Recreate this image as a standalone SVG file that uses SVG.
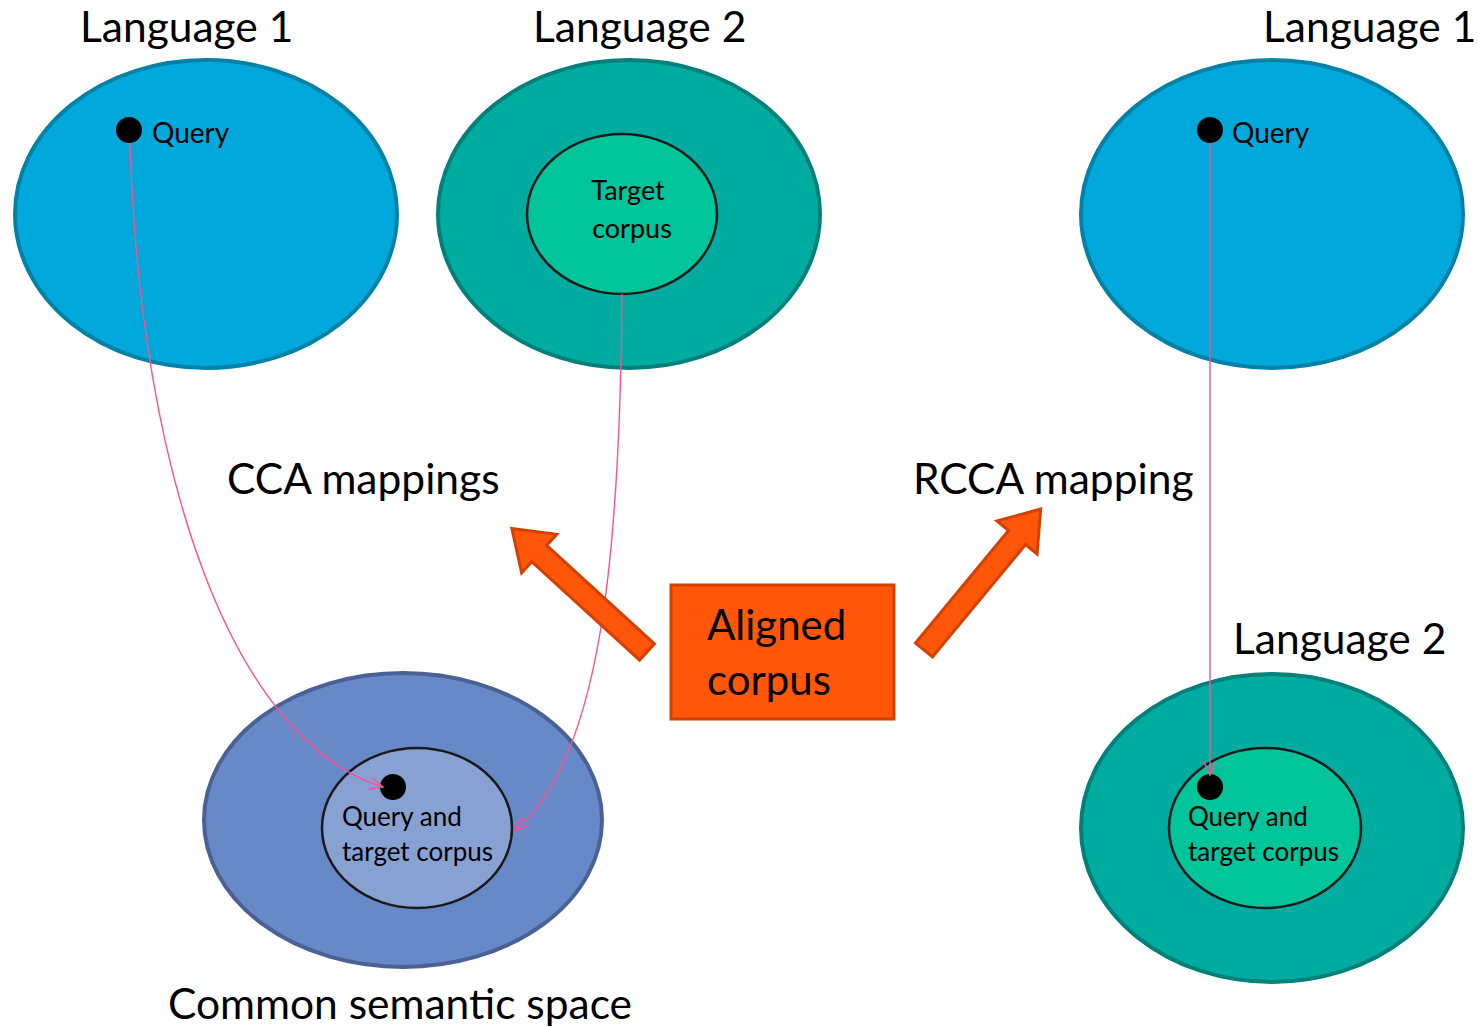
<svg xmlns="http://www.w3.org/2000/svg" width="1479" height="1027" viewBox="0 0 1479 1027">
<style>
  text { font-family: Lato, "Liberation Sans", sans-serif; fill: #000; }
  .big { font-size: 42.5px; }
  .mid { font-size: 26px; }
  .q { font-size: 28px; }
  .lang1 { fill: #00a8dc; stroke: #0082a6; stroke-width: 4; }
  .lang2 { fill: #00aba0; stroke: #00807a; stroke-width: 4; }
  .common { fill: #6889c7; stroke: #4a6196; stroke-width: 4; }
  .inner2 { fill: #00c49a; stroke: #1a1a1a; stroke-width: 2.5; }
  .innerc { fill: #87a1d3; stroke: #1a1a1a; stroke-width: 2.5; }
  .dot { fill: #000; }
  .conn { fill: none; stroke: #ff4f8f; stroke-width: 1.4; }
  .block { fill: #ff560a; stroke: #d34000; stroke-width: 3; stroke-linejoin: miter; }
</style>
<defs>
  <marker id="open" markerWidth="16" markerHeight="14" refX="14" refY="7" orient="auto" markerUnits="userSpaceOnUse">
    <path d="M1,1 L14,7 L1,13" fill="none" stroke="#ff4f8f" stroke-width="1.4"/>
  </marker>
  <polygon id="barrow" points="0,-11 146,-11 146,-26 183,0 146,26 146,11 0,11"/>
</defs>

<g id="lang1-left">
  <ellipse class="lang1" cx="206" cy="214" rx="191" ry="154"/>
  <circle class="dot" cx="129" cy="130" r="13"/>
  <text class="q" x="152" y="143">Query</text>
  <text class="big" x="80" y="42">Language 1</text>
</g>

<g id="lang2-top">
  <ellipse class="lang2" cx="629" cy="214" rx="191" ry="154"/>
  <ellipse class="inner2" cx="622" cy="214" rx="95" ry="80"/>
  <text class="mid" x="628" y="200" text-anchor="middle" style="font-size:27px">Target</text>
  <text class="mid" x="632" y="238" text-anchor="middle" style="font-size:27px">corpus</text>
  <text class="big" x="533" y="42">Language 2</text>
</g>

<g id="lang1-right">
  <ellipse class="lang1" cx="1272" cy="214" rx="191" ry="154"/>
  <circle class="dot" cx="1210" cy="130" r="13"/>
  <text class="q" x="1232" y="143">Query</text>
  <text class="big" x="1263" y="42">Language 1</text>
</g>

<g id="common-space">
  <ellipse class="common" cx="403" cy="820" rx="199" ry="147"/>
  <ellipse class="innerc" cx="417" cy="828" rx="95" ry="80"/>
  <circle class="dot" cx="393" cy="787" r="13"/>
  <text class="mid" x="342" y="826">Query and</text>
  <text class="mid" x="342" y="861">target corpus</text>
  <text class="big" x="168" y="1019">Common semantic space</text>
</g>

<g id="lang2-bottom">
  <ellipse class="lang2" cx="1272" cy="828" rx="191" ry="154"/>
  <ellipse class="inner2" cx="1265" cy="828" rx="96" ry="80"/>
  <circle class="dot" cx="1210" cy="787" r="13"/>
  <text class="mid" x="1188" y="826">Query and</text>
  <text class="mid" x="1188" y="861">target corpus</text>
  <text class="big" x="1233" y="654">Language 2</text>
</g>

<g id="aligned-corpus">
  <rect class="block" x="671" y="585" width="223" height="134"/>
  <text x="707" y="640" style="font-size:42px">Aligned</text>
  <text x="707" y="695" style="font-size:42px">corpus</text>
</g>

<g id="labels">
  <text class="big" x="227" y="494">CCA mappings</text>
  <text class="big" x="913" y="494">RCCA mapping</text>
</g>

<g id="connectors">
  <path class="conn" d="M130,143 C140,470 230,740 383,787" marker-end="url(#open)"/>
  <path class="conn" d="M622,294 C620,560 600,760 515,830" marker-end="url(#open)"/>
  <path class="conn" d="M1210,143 L1210,775" marker-end="url(#open)"/>
  <use href="#barrow" class="block" transform="translate(647,652) rotate(222.4)"/>
  <use href="#barrow" class="block" transform="translate(924,650) rotate(-50.4)"/>
</g>
</svg>
